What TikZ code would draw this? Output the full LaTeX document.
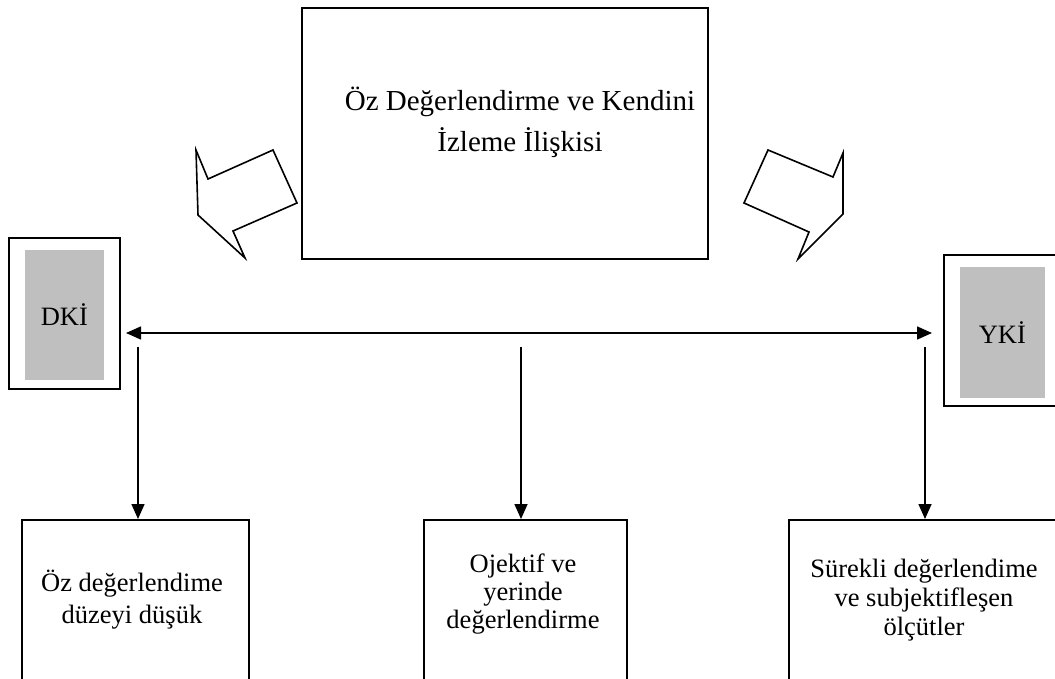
\documentclass[tikz,border=0pt]{standalone}
\usepackage{fontspec}
\setmainfont{Liberation Serif}
\usetikzlibrary{arrows.meta,positioning}

\begin{document}
\begin{tikzpicture}[x=1pt,y=-1pt,line width=1.6pt,>={Triangle[length=15pt,width=13pt]},
  box/.style={draw,inner sep=0pt,anchor=north west},
  shade/.style={fill=black!25,inner sep=0pt,anchor=north west,font=\fontsize{26.5}{30}\selectfont},
  lbl/.style={align=center,font=\fontsize{26.5}{#1}\selectfont}]
  \useasboundingbox (0,0) rectangle (1055,679);
  \clip (0,0) rectangle (1055,679);
  % ust kutu
  \node[box,minimum width=406pt,minimum height=251pt] (iliski) at (301,7) {};
  \node[align=center,font=\fontsize{29}{41}\selectfont] (baslik) at (520,122) {Öz Değerlendirme ve Kendini\\İzleme İlişkisi};
  % blok oklar
  \draw[line join=miter] (196,150) -- (208,179) -- (273,150) -- (297,203) -- (233,231) -- (245,258) -- (198,215) -- cycle;
  \draw[line join=miter] (768,150) -- (833,177) -- (843,153) -- (843,214) -- (798,259) -- (809,232) -- (744,203) -- cycle;
  % DKI / YKI
  \node[box,minimum width=111pt,minimum height=151pt] (dkiKutu) at (8,237) {};
  \node[shade,minimum width=79pt,minimum height=130pt] (dki) at (24,249) {DKİ};
  \node[box,minimum width=115pt,minimum height=151pt] (ykiKutu) at (943,254) {};
  \node[shade,minimum width=85pt,minimum height=131pt] (yki) at (959,266) {YKİ};
  \coordinate (uL) at (126,333);
  \coordinate (uR) at (932,333);
  \draw[<->] (uL) -- (uR);
  % alt kutular
  \node[box,minimum width=227pt,minimum height=200pt] (lowL) at (21,519) {};
  \node[box,minimum width=203pt,minimum height=200pt] (lowM) at (423,519) {};
  \node[box,minimum width=290pt,minimum height=200pt] (lowR) at (788,519) {};
  \foreach \n/\x in {L/138,M/521,R/925}{
    \coordinate (drop\n) at (\x,347);
    \draw[->] (drop\n) -- (drop\n |- low\n.north);
  }
  \node[lbl=32] (txtL) at (132,600) {Öz değerlendime\\düzeyi düşük};
  \node[lbl=28] (txtM) at (523,594) {Ojektif ve\\yerinde\\değerlendirme};
  \node[lbl=29] (txtR) at (924,600) {Sürekli değerlendime\\ve subjektifleşen\\ölçütler};
\end{tikzpicture}
\end{document}
